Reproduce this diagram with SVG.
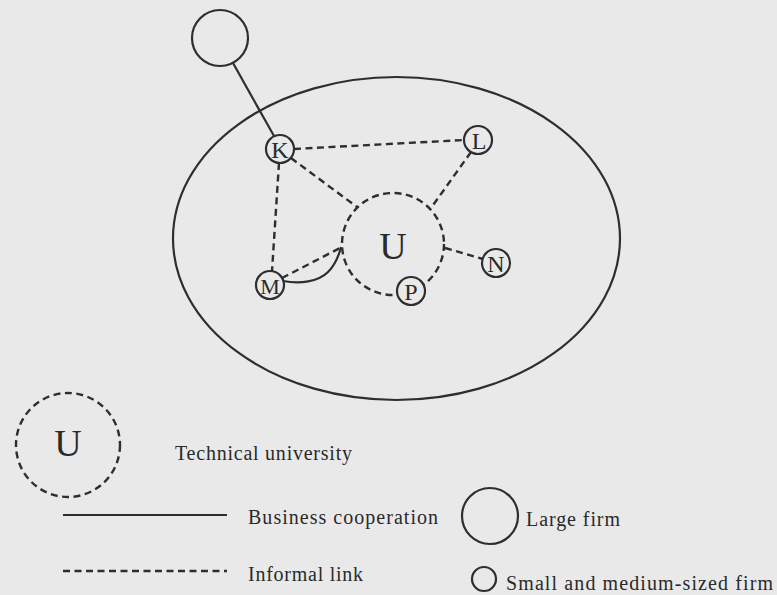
<svg xmlns="http://www.w3.org/2000/svg" width="777" height="595" viewBox="0 0 777 595">
<style>
.bg{fill:#e9e9e9}
.ln{fill:none;stroke:#2e2e2e;stroke-width:2.2}
.ds{fill:none;stroke:#2e2e2e;stroke-width:2.4;stroke-dasharray:7 4.5}
.nd{fill:#e9e9e9;stroke:#2e2e2e;stroke-width:2.2}
.lt{font-family:"Liberation Serif","Times New Roman",serif;fill:#2a2a2a;text-anchor:middle}
.tx{font-family:"Liberation Serif","Times New Roman",serif;fill:#2a2a2a;font-size:20px}
</style>
<rect class="bg" x="0" y="0" width="777" height="595"/>
<g id="region">
<ellipse class="ln" cx="396.5" cy="238.5" rx="223.5" ry="161.5"/>
</g>
<g id="connectors">
<line class="ln" x1="233" y1="63" x2="274" y2="136"/>
<line class="ds" x1="294" y1="149" x2="464" y2="140"/>
<line class="ds" x1="291" y1="158" x2="357" y2="207"/>
<line class="ds" x1="471" y1="152" x2="431" y2="208"/>
<line class="ds" x1="279" y1="163" x2="272" y2="271"/>
<line class="ds" x1="282" y1="278" x2="342" y2="247"/>
<path class="ln" d="M283,281 C300,284 318,282 328,272 C336,264 339,255 341,247"/>
<line class="ds" x1="445" y1="248" x2="483" y2="259"/>
</g>
<g id="large-firm">
<circle class="nd" cx="220" cy="38" r="28"/>
</g>
<g id="U">
<circle class="ds" cx="393" cy="244" r="51"/>
<text class="lt" x="393" y="259" font-size="38">U</text>
</g>
<g id="K">
<circle class="nd" cx="280" cy="149" r="14"/>
<text class="lt" x="280" y="157.5" font-size="24">K</text>
</g>
<g id="L">
<circle class="nd" cx="478" cy="140" r="14"/>
<text class="lt" x="479" y="148.5" font-size="24">L</text>
</g>
<g id="M">
<circle class="nd" cx="270" cy="285" r="14"/>
<text class="lt" x="270" y="293.5" font-size="22">M</text>
</g>
<g id="P">
<circle class="nd" cx="411" cy="291" r="14"/>
<text class="lt" x="411" y="299.5" font-size="24">P</text>
</g>
<g id="N">
<circle class="nd" cx="496" cy="263" r="14"/>
<text class="lt" x="496" y="271.5" font-size="24">N</text>
</g>
<g id="legend">
<circle class="ds" cx="68" cy="445" r="52"/>
<text class="lt" x="68" y="456" font-size="38">U</text>
<text class="tx" x="175" y="460" textLength="177" lengthAdjust="spacing">Technical university</text>
<line class="ln" x1="63" y1="515" x2="227" y2="515"/>
<text class="tx" x="248" y="524" textLength="190" lengthAdjust="spacing">Business cooperation</text>
<line class="ds" x1="63" y1="571" x2="227" y2="571"/>
<text class="tx" x="248" y="581" textLength="115" lengthAdjust="spacing">Informal link</text>
<circle class="nd" cx="490" cy="516" r="28"/>
<text class="tx" x="526" y="526" textLength="94" lengthAdjust="spacing">Large firm</text>
<circle class="nd" cx="484" cy="579" r="12"/>
<text class="tx" x="506" y="590" textLength="267" lengthAdjust="spacing">Small and medium-sized firm</text>
</g>
</svg>
